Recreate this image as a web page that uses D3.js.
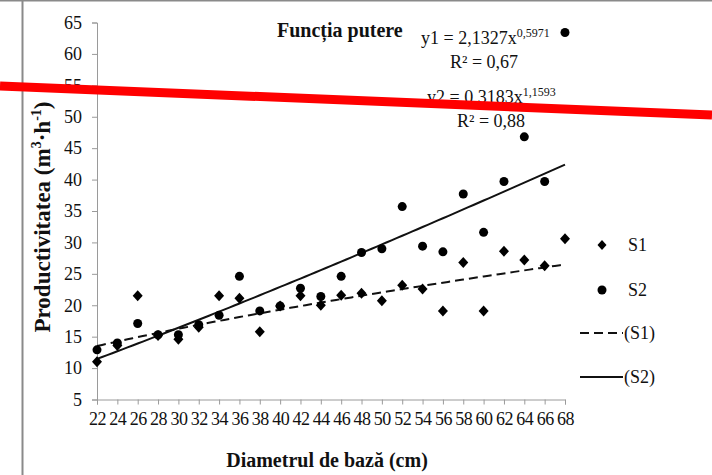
<!DOCTYPE html>
<html>
<head>
<meta charset="utf-8">
<script src="https://cdn.jsdelivr.net/npm/d3@7"></script>
<style>
  html, body { margin: 0; padding: 0; background: #fff; }
  svg { display: block; }
  text { font-family: "Liberation Serif", "Times New Roman", serif; fill: #111; }
</style>
</head>
<body>
<svg id="chart" width="712" height="475"></svg>
<script>
// Base diameter (cm)
const diameters = [22, 24, 26, 28, 30, 32, 34, 36, 38, 40, 42, 44, 46, 48, 50, 52, 54, 56, 58, 60, 62, 64, 66, 68];
// Productivity (m3/h) for the two series
const s1Values = [11.0, 13.6, 21.5, 15.2, 14.6, 16.5, 21.5, 21.1, 15.8, 19.9, 21.5, 20.0, 21.6, 21.9, 20.7, 23.2, 22.6, 19.1, 26.8, 19.1, 28.6, 27.2, 26.3, 30.6];
const s2Values = [12.9, 14.0, 17.1, 15.3, 15.3, 16.9, 18.4, 24.6, 19.1, 19.9, 22.7, 21.4, 24.6, 28.4, 29.0, 35.7, 29.4, 28.5, 37.7, 31.6, 39.7, 46.8, 39.7, 63.4];
// Power-function fits y = a * x^b
const fit1 = { a: 2.1327, b: 0.5971, r2: "0,67" };
const fit2 = { a: 0.3183, b: 1.1593, r2: "0,88" };
const xTicks = d3.range(22, 69, 2);
const yTicks = d3.range(5, 66, 5);

const svg = d3.select("#chart");
const margin = { left: 97, right: 147, top: 22.5, bottom: 75.5 };
const W = 712, H = 475;

const x = d3.scaleLinear().domain([22, 68]).range([margin.left, W - margin.right]);
const y = d3.scaleLinear().domain([5, 65]).range([H - margin.bottom, margin.top]);

// outer frame lines
svg.append("line").attr("x1", 0).attr("x2", W).attr("y1", 0.5).attr("y2", 0.5)
  .attr("stroke", "#8a8a8a").attr("stroke-width", 2);
svg.append("line").attr("x1", 22.5).attr("x2", 22.5).attr("y1", 0).attr("y2", H)
  .attr("stroke", "#8a8a8a").attr("stroke-width", 2);

// axes
const axisColor = "#9a9a9a";
const gx = svg.append("g").attr("transform", `translate(0,${y(5)})`)
  .call(d3.axisBottom(x).tickValues(xTicks).tickSize(5).tickPadding(8).tickFormat(d3.format("d")));
const gy = svg.append("g").attr("transform", `translate(${x(22)},0)`)
  .call(d3.axisLeft(y).tickValues(yTicks).tickSize(5).tickPadding(10).tickFormat(d3.format("d")));
[gx, gy].forEach(g => {
  g.select(".domain").attr("stroke", axisColor);
  g.selectAll(".tick line").attr("stroke", axisColor);
  g.selectAll(".tick text").attr("font-size", 18).attr("font-family", "Liberation Serif").attr("fill", "#111");
});
gx.selectAll(".tick text").attr("letter-spacing", -0.5);

// axis titles
svg.append("text").attr("x", 327).attr("y", 467).attr("text-anchor", "middle")
  .attr("font-size", 20).attr("font-weight", "bold").text("Diametrul de bază (cm)");

const yt = svg.append("text").attr("transform", "translate(50,217) rotate(-90)")
  .attr("text-anchor", "middle").attr("font-size", 23).attr("font-weight", "bold");
yt.append("tspan").text("Productivitatea (m");
yt.append("tspan").attr("font-size", 14).attr("dy", -9).text("3");
yt.append("tspan").attr("font-size", 23).attr("dy", 9).text("·h");
yt.append("tspan").attr("font-size", 14).attr("dy", -9).text("-1");
yt.append("tspan").attr("font-size", 23).attr("dy", 9).text(")");

// trend curves from the fitted power functions
const curveXs = d3.range(22, 68.001, 0.5);
const line = d3.line().x(d => x(d[0])).y(d => y(d[1]));
svg.append("path").datum(curveXs.map(v => [v, fit1.a * Math.pow(v, fit1.b)]))
  .attr("d", line).attr("fill", "none").attr("stroke", "#111").attr("stroke-width", 2)
  .attr("stroke-dasharray", "9,5");
svg.append("path").datum(curveXs.map(v => [v, fit2.a * Math.pow(v, fit2.b)]))
  .attr("d", line).attr("fill", "none").attr("stroke", "#111").attr("stroke-width", 2);

// diamond marker, slightly taller than wide
const diamondPath = (hw, hh) => `M0,${-hh}L${hw},0L0,${hh}L${-hw},0Z`;

// markers
svg.append("g").selectAll("path").data(diameters.map((d, i) => [d, s1Values[i]]))
  .join("path").attr("d", diamondPath(5, 5.5))
  .attr("transform", d => `translate(${x(d[0])},${y(d[1])})`).attr("fill", "#000");
svg.append("g").selectAll("circle").data(diameters.map((d, i) => [d, s2Values[i]]))
  .join("circle").attr("cx", d => x(d[0])).attr("cy", d => y(d[1])).attr("r", 4.5).attr("fill", "#000");

// title
svg.append("text").attr("x", 277).attr("y", 37).attr("font-size", 20).attr("font-weight", "bold")
  .text("Funcția putere");

// equations
function equation(xp, yp, label, a, b) {
  const t = svg.append("text").attr("x", xp).attr("y", yp).attr("font-size", 18);
  t.append("tspan").text(`${label} = ${String(a).replace(".", ",")}x`);
  t.append("tspan").attr("font-size", 12).attr("dy", -7).text(String(b).replace(".", ","));
}
equation(421, 44, "y1", fit1.a, fit1.b);
svg.append("text").attr("x", 450).attr("y", 68).attr("font-size", 18).text(`R² = ${fit1.r2}`);
equation(427, 103, "y2", fit2.a, fit2.b);
svg.append("text").attr("x", 457).attr("y", 127).attr("font-size", 18).text(`R² = ${fit2.r2}`);

// legend
const lg = svg.append("g");
lg.append("path").attr("d", diamondPath(4.5, 5)).attr("transform", "translate(602,245)");
lg.append("text").attr("x", 628).attr("y", 251).attr("font-size", 18).text("S1");
lg.append("circle").attr("cx", 602).attr("cy", 290).attr("r", 4.5);
lg.append("text").attr("x", 628).attr("y", 296).attr("font-size", 18).text("S2");
lg.append("line").attr("x1", 580).attr("x2", 623).attr("y1", 333).attr("y2", 333)
  .attr("stroke", "#111").attr("stroke-width", 2).attr("stroke-dasharray", "9,5");
lg.append("text").attr("x", 624).attr("y", 339).attr("font-size", 18).text("(S1)");
lg.append("line").attr("x1", 580).attr("x2", 623).attr("y1", 377).attr("y2", 377)
  .attr("stroke", "#111").attr("stroke-width", 2);
lg.append("text").attr("x", 624).attr("y", 383).attr("font-size", 18).text("(S2)");

// red strike line across the chart
svg.append("line").attr("x1", 0).attr("y1", 86).attr("x2", W).attr("y2", 115)
  .attr("stroke", "#ff0000").attr("stroke-width", 9);
</script>
</body>
</html>
